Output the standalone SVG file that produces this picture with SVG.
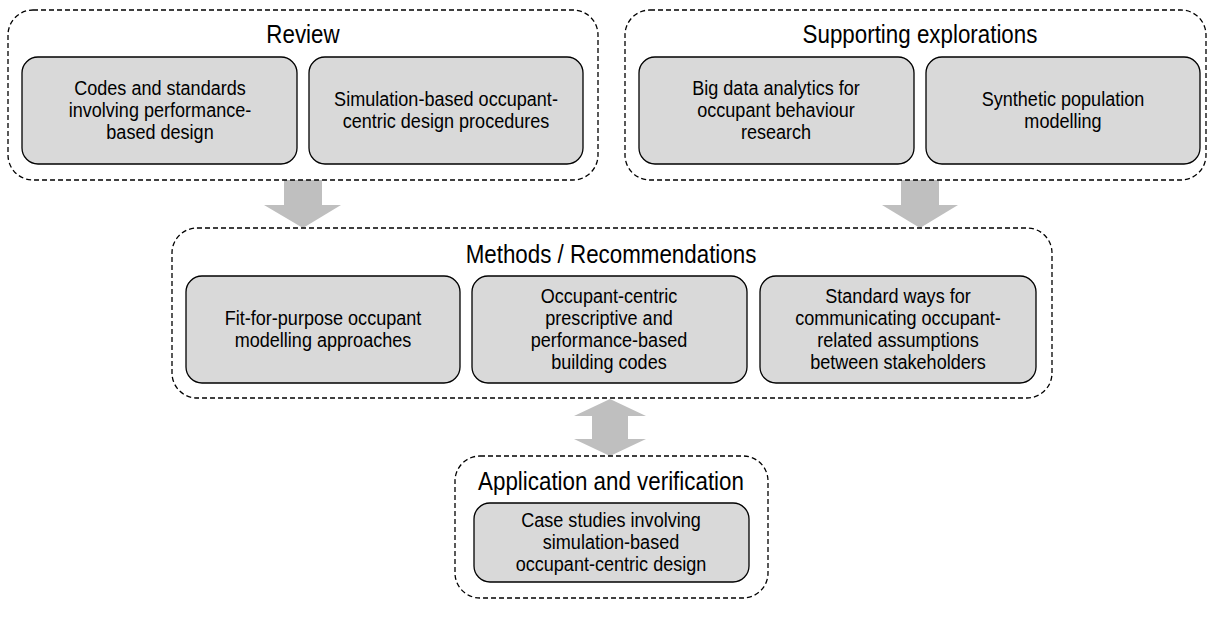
<svg xmlns="http://www.w3.org/2000/svg" width="1207" height="628" viewBox="0 0 1207 628">
<style>
.cont{fill:none;stroke:#000;stroke-width:1.3;stroke-dasharray:5 3}
.box{fill:#d9d9d9;stroke:#000;stroke-width:1.3}
.arr{fill:#bfbfbf;stroke:none}
text{font-family:"Liberation Sans","Arial",sans-serif;fill:#000;text-anchor:middle}
.t{font-size:26px}
.b{font-size:21px}
</style>
<rect width="1207" height="628" fill="#fff"/>
<g id="connectors">
<path class="arr" d="M284 180H322V205H341L303 228L264 205H284Z"/>
<path class="arr" d="M901 180H939V205H958L920 228L882 205H901Z"/>
<path class="arr" d="M610 399L646 416H628V439H646L610 456L574 439H592V416H574Z"/>
</g>
<g id="review">
<rect class="cont" x="8" y="10" width="590" height="170" rx="25"/>
<text class="t" transform="matrix(0.86 0 0 1 303 0)"><tspan x="0" y="43">Review</tspan></text>
</g>
<g id="codes">
<rect class="box" x="22" y="57" width="275" height="107" rx="16"/>
<text class="b" transform="matrix(0.86 0 0 1 160 0)"><tspan x="0" y="95">Codes and standards</tspan><tspan x="0" y="117">involving performance-</tspan><tspan x="0" y="139">based design</tspan></text>
</g>
<g id="simulation">
<rect class="box" x="309" y="57" width="274" height="107" rx="16"/>
<text class="b" transform="matrix(0.86 0 0 1 446 0)"><tspan x="0" y="106">Simulation-based occupant-</tspan><tspan x="0" y="128">centric design procedures</tspan></text>
</g>
<g id="supporting">
<rect class="cont" x="625" y="10" width="581" height="170" rx="25"/>
<text class="t" transform="matrix(0.86 0 0 1 920 0)"><tspan x="0" y="43">Supporting explorations</tspan></text>
</g>
<g id="bigdata">
<rect class="box" x="639" y="57" width="275" height="107" rx="16"/>
<text class="b" transform="matrix(0.86 0 0 1 776 0)"><tspan x="0" y="95">Big data analytics for</tspan><tspan x="0" y="117">occupant behaviour</tspan><tspan x="0" y="139">research</tspan></text>
</g>
<g id="synthetic">
<rect class="box" x="926" y="57" width="274" height="107" rx="16"/>
<text class="b" transform="matrix(0.86 0 0 1 1063 0)"><tspan x="0" y="106">Synthetic population</tspan><tspan x="0" y="128">modelling</tspan></text>
</g>
<g id="methods">
<rect class="cont" x="172" y="228" width="880" height="170" rx="25"/>
<text class="t" transform="matrix(0.86 0 0 1 611 0)"><tspan x="0" y="263">Methods / Recommendations</tspan></text>
</g>
<g id="fitforpurpose">
<rect class="box" x="186" y="276" width="274" height="107" rx="16"/>
<text class="b" transform="matrix(0.86 0 0 1 323 0)"><tspan x="0" y="325">Fit-for-purpose occupant</tspan><tspan x="0" y="347">modelling approaches</tspan></text>
</g>
<g id="codesrec">
<rect class="box" x="472" y="276" width="275" height="107" rx="16"/>
<text class="b" transform="matrix(0.86 0 0 1 609 0)"><tspan x="0" y="303">Occupant-centric</tspan><tspan x="0" y="325">prescriptive and</tspan><tspan x="0" y="347">performance-based</tspan><tspan x="0" y="369">building codes</tspan></text>
</g>
<g id="standard">
<rect class="box" x="760" y="276" width="276" height="107" rx="16"/>
<text class="b" transform="matrix(0.86 0 0 1 898 0)"><tspan x="0" y="303">Standard ways for</tspan><tspan x="0" y="325">communicating occupant-</tspan><tspan x="0" y="347">related assumptions</tspan><tspan x="0" y="369">between stakeholders</tspan></text>
</g>
<g id="application">
<rect class="cont" x="455" y="456" width="313" height="142" rx="25"/>
<text class="t" transform="matrix(0.86 0 0 1 611 0)"><tspan x="0" y="490">Application and verification</tspan></text>
</g>
<g id="casestudies">
<rect class="box" x="474" y="503" width="275" height="79" rx="16"/>
<text class="b" transform="matrix(0.86 0 0 1 611 0)"><tspan x="0" y="527">Case studies involving</tspan><tspan x="0" y="549">simulation-based</tspan><tspan x="0" y="571">occupant-centric design</tspan></text>
</g>
</svg>
